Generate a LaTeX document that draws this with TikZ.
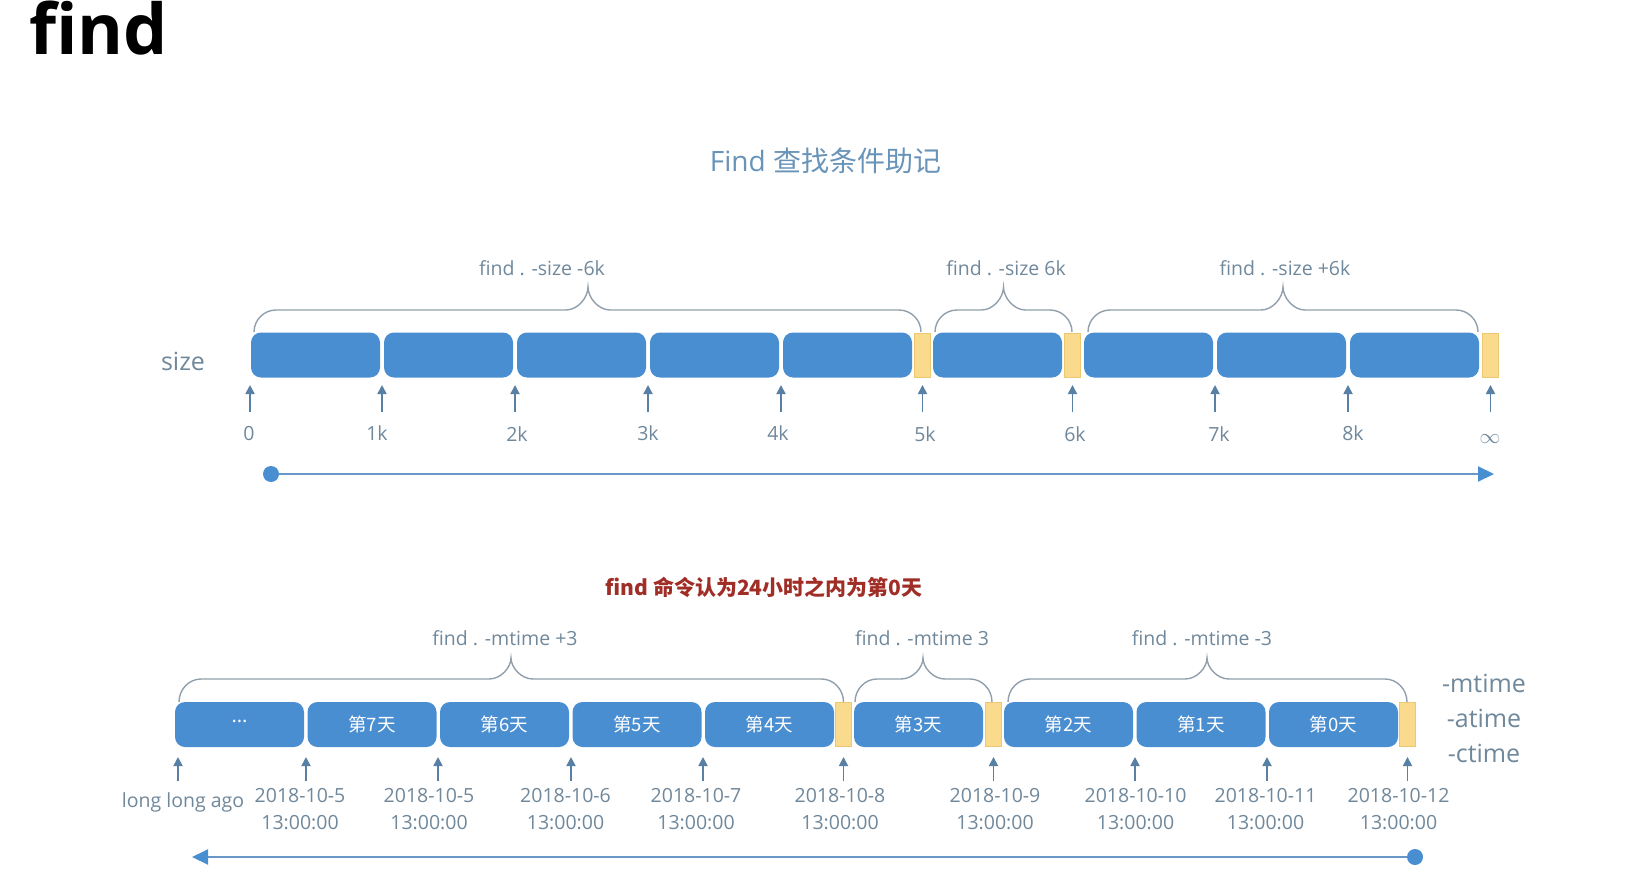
\documentclass[tikz,border=0pt]{standalone}
\usepackage{fontspec}
\setmainfont{Open Sans}
\newfontfamily\cjk{Noto Sans CJK SC}
\usetikzlibrary{arrows.meta}
\definecolor{boxblue}{RGB}{74,142,210}
\definecolor{ylwfill}{RGB}{250,218,140}
\definecolor{ylwdraw}{RGB}{238,200,112}
\definecolor{bracegray}{RGB}{145,160,172}
\definecolor{arrowc}{RGB}{88,128,165}
\definecolor{lblgray}{RGB}{112,136,155}
\definecolor{titlec}{RGB}{105,148,185}
\definecolor{notered}{RGB}{160,45,38}
\definecolor{axisc}{RGB}{105,152,200}
\newcommand\fs[1]{\fontsize{#1}{#1}\selectfont}
% x0 xt x1 yb yh ytip
\newcommand\mybrace[6]{%
  \draw[brc] (#1,#4) .. controls (#1,{#4-0.55*(#4-#5)}) and ({#1+10},#5) .. ({#1+22},#5)
    -- ({#2-22},#5) .. controls ({#2-10},#5) and (#2,{#6+0.45*(#5-#6)}) .. (#2,#6)
    .. controls (#2,{#6+0.45*(#5-#6)}) and ({#2+10},#5) .. ({#2+22},#5)
    -- ({#3-22},#5) .. controls ({#3-10},#5) and (#3,{#4-0.55*(#4-#5)}) .. (#3,#4);}
\begin{document}
\begin{tikzpicture}[x=1pt,y=-1pt,
  blk/.style={rectangle, rounded corners=10pt, fill=boxblue, minimum height=45pt, minimum width=129pt, inner sep=0pt, text=white, font=\cjk\fs{18.5}},
  ylw/.style={rectangle, fill=ylwfill, draw=ylwdraw, line width=0.8pt, minimum height=44pt, minimum width=16pt, inner sep=0pt},
  lbl/.style={text=lblgray, font=\fs{19.5}, inner sep=0pt, text height=14pt, text depth=0pt},
  brc/.style={draw=bracegray, line width=1.4pt},
  tick/.style={draw=arrowc, line width=1.8pt, -{Triangle[length=9pt,width=9pt]}},
  axis/.style={draw=axisc, line width=2pt, -{Triangle[length=16pt,width=15pt,color=boxblue]}},
  dot/.style={circle, fill=boxblue, minimum size=16pt, inner sep=0pt}
]
\fill[white] (0,0) rectangle (1633,891);
\useasboundingbox (0,0) rectangle (1633,891);

% titles
\node[anchor=base west, inner sep=0pt, font=\fs{70}\bfseries] (ttl) at (29,55) {find};
\node[text=titlec, inner sep=0pt, font=\fs{28}] (sub) at (825.5,161) {Find {\cjk 查找条件助记}};

% ===== size row =====
\node[text=lblgray, inner sep=0pt, font=\fs{25}, anchor=base] (szl) at (183,370) {size};
\node[blk] (s1) at (315.5,355) {};
\node[blk] (s2) at (448.5,355) {};
\node[blk] (s3) at (581.5,355) {};
\node[blk] (s4) at (714.5,355) {};
\node[blk] (s5) at (847.5,355) {};
\node[ylw] (sy1) at (922.5,355) {};
\node[blk] (s6) at (997.5,355) {};
\node[ylw] (sy2) at (1072.5,355) {};
\node[blk] (s7) at (1148.5,355) {};
\node[blk] (s8) at (1281.5,355) {};
\node[blk] (s9) at (1414.5,355) {};
\node[ylw] (sy3) at (1490.5,355) {};

\mybrace{254}{588}{921}{332}{310}{287}
\mybrace{935}{1003.5}{1072}{332}{310}{287}
\mybrace{1088}{1283}{1478}{332}{310}{287}
\node[lbl] (bl1) at (542,268) {find . -size -6k};
\node[lbl] (bl2) at (1006,268) {find . -size 6k};
\node[lbl] (bl3) at (1285,268) {find . -size +6k};

\foreach \x [count=\i] in {250,382,515,648,781,922.5,1072.5,1215,1348,1490.5}{
  \coordinate (ta\i) at (\x,412);
  \draw[tick] (ta\i) -- ++(0,-27);
}
\node[lbl] (k0) at (249,433) {0};
\node[lbl] (k1) at (377,433) {1k};
\node[lbl] (k2) at (517,434) {2k};
\node[lbl] (k3) at (648,433) {3k};
\node[lbl] (k4) at (778,433) {4k};
\node[lbl] (k5) at (925,434) {5k};
\node[lbl] (k6) at (1075,434) {6k};
\node[lbl] (k7) at (1219,434) {7k};
\node[lbl] (k8) at (1353,433) {8k};
\node[lbl, font=\fs{20}] (k9) at (1490,436) {$\infty$};

\node[dot] (d1) at (271,474) {};
\coordinate (e1) at (1494,474);
\draw[axis] (d1) -- (e1);

% ===== time row =====
\node[text=notered, inner sep=0pt, font=\cjk\bfseries\fs{21}] (note) at (764,587) {find 命令认为24小时之内为第0天};

\node[blk, font=\fs{20}] (m0) at (239.5,724.5) {···};
\node[blk] (m1) at (372,724.5) {第7天};
\node[blk] (m2) at (504.5,724.5) {第6天};
\node[blk] (m3) at (637,724.5) {第5天};
\node[blk] (m4) at (769.5,724.5) {第4天};
\node[ylw] (my1) at (843.5,724.5) {};
\node[blk] (m5) at (918.5,724.5) {第3天};
\node[ylw] (my2) at (993.5,724.5) {};
\node[blk] (m6) at (1068.5,724.5) {第2天};
\node[blk] (m7) at (1201,724.5) {第1天};
\node[blk] (m8) at (1333.5,724.5) {第0天};
\node[ylw] (my3) at (1407.5,724.5) {};

\mybrace{179}{511}{843.5}{702}{679}{658}
\mybrace{855}{923}{992}{702}{679}{658}
\mybrace{1008}{1207}{1407}{702}{679}{658}
\node[lbl] (ml1) at (505,638) {find . -mtime +3};
\node[lbl] (ml2) at (922,638) {find . -mtime 3};
\node[lbl] (ml3) at (1202,638) {find . -mtime -3};

\node[text=lblgray, inner sep=0pt, font=\fs{25}, anchor=base] (rt1) at (1484,692) {-mtime};
\node[text=lblgray, inner sep=0pt, font=\fs{25}, anchor=base] (rt2) at (1484,727) {-atime};
\node[text=lblgray, inner sep=0pt, font=\fs{25}, anchor=base] (rt3) at (1484,762) {-ctime};

\foreach \x [count=\i] in {178,306,438,571,703,843.5,993.5,1135,1267,1407.5}{
  \coordinate (tb\i) at (\x,781);
  \draw[tick] (tb\i) -- ++(0,-24);
}
\node[text=lblgray, inner sep=0pt, font=\fs{19.5}, anchor=base] (lla) at (183,807) {long long ago};
\foreach \x/\d [count=\i] in {300/2018-10-5,429/2018-10-5,565.5/2018-10-6,696/2018-10-7,840/2018-10-8,995/2018-10-9,1135.5/2018-10-10,1265.5/2018-10-11,1398.5/2018-10-12}{
  \node[lbl] (dt\i) at (\x,795) {\d};
  \node[lbl] (tm\i) at (\x,822) {13:00:00};
}

\node[dot] (d2) at (1415,857) {};
\coordinate (e2) at (192,857);
\draw[axis] (d2) -- (e2);
\end{tikzpicture}
\end{document}
